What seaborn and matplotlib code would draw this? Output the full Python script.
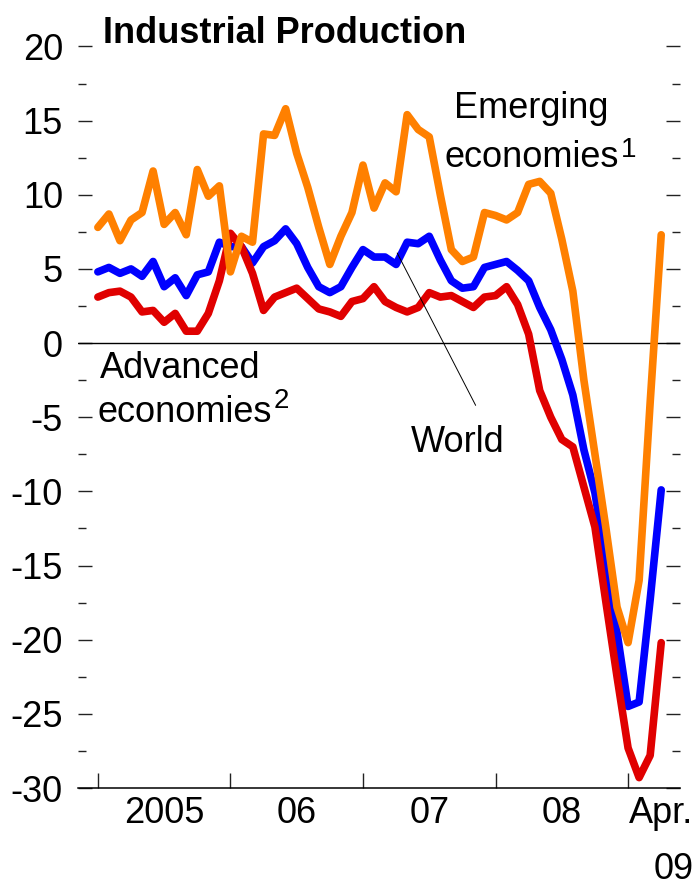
import matplotlib
matplotlib.use("Agg")
import matplotlib.pyplot as plt
import pandas as pd
import seaborn as sns
from matplotlib import font_manager
from matplotlib.ticker import FixedLocator, MultipleLocator

# Monthly, Jan 2005 .. Apr 2009 (year-on-year % change)
months = pd.date_range("2005-01-01", "2009-04-01", freq="MS")

emerging = [7.8, 8.7, 6.9, 8.3, 8.8, 11.6, 8.0, 8.8, 7.3, 11.7, 9.9, 10.6,
            4.8, 7.2, 6.8, 14.1, 14.0, 15.8, 12.8, 10.5, 7.8, 5.3, 7.2, 8.8,
            12.0, 9.1, 10.8, 10.2, 15.4, 14.4, 13.9, 10.0, 6.3, 5.5, 5.8, 8.8,
            8.6, 8.3, 8.8, 10.7, 10.9, 10.1, 7.0, 3.5, -2.5, -7.5, -12.5, -17.8,
            -20.2, -16.0, -4.0, 7.3]
world = [4.8, 5.1, 4.7, 5.0, 4.5, 5.5, 3.8, 4.4, 3.2, 4.6, 4.8, 6.8,
         6.5, 6.5, 5.4, 6.5, 6.9, 7.7, 6.7, 5.1, 3.8, 3.4, 3.8, 5.1,
         6.3, 5.8, 5.8, 5.3, 6.8, 6.7, 7.2, 5.6, 4.2, 3.7, 3.8, 5.1,
         5.3, 5.5, 4.9, 4.2, 2.4, 0.9, -1.1, -3.5, -7.2, -10.1, -14.8, -19.5,
         -24.5, -24.2, -17.3, -9.9]
advanced = [3.1, 3.4, 3.5, 3.1, 2.1, 2.2, 1.4, 2.0, 0.8, 0.8, 2.0, 4.2,
            7.4, 6.5, 4.7, 2.2, 3.1, 3.4, 3.7, 3.0, 2.3, 2.1, 1.8, 2.8,
            3.0, 3.8, 2.8, 2.4, 2.1, 2.4, 3.4, 3.1, 3.2, 2.8, 2.4, 3.1,
            3.2, 3.8, 2.6, 0.6, -3.2, -5.0, -6.5, -7.0, -9.7, -12.4, -17.5, -22.5,
            -27.3, -29.3, -27.8, -20.2]

year_ticks = [0, 12, 24, 36, 48]
year_label_pos = [6, 18, 30, 42, 51]
year_labels = ["2005", "06", "07", "08", "Apr.\n09"]

series_order = ["World", "Advanced", "Emerging"]
palette = {"World": "#0000FF", "Advanced": "#E00000", "Emerging": "#FF8000"}

df = pd.DataFrame({
    "t": range(len(months)),
    "Emerging": emerging,
    "World": world,
    "Advanced": advanced,
})
long_df = df.melt(id_vars="t", var_name="series", value_name="value")

sns.set_theme(style="white")
names = {f.name for f in font_manager.fontManager.ttflist}
if "Liberation Sans Narrow" in names:
    base_font, FS = "Liberation Sans Narrow", 31
else:
    base_font, FS = "Liberation Sans", 26
plt.rcParams["font.family"] = [base_font, "DejaVu Sans"]
plt.rcParams["axes.unicode_minus"] = False
plt.rcParams["text.color"] = "black"

fig = plt.figure(figsize=(6.95, 8.86), dpi=100)
ax = fig.add_axes([0.1122, 0.1106, 0.8662, 0.837])

sns.lineplot(data=long_df, x="t", y="value", hue="series", hue_order=series_order,
             palette=palette, linewidth=5.5, legend=False, ax=ax)
ax.axhline(0, color="black", lw=1.0, zorder=1)

ax.set_xlim(-1.8, 52.7)
ax.set_ylim(-30, 20)
ax.set_xlabel("")
ax.set_ylabel("")

for side in ["top", "left", "right"]:
    ax.spines[side].set_visible(False)
ax.spines["bottom"].set_color("black")
ax.spines["bottom"].set_linewidth(1.1)

ax.yaxis.set_major_locator(MultipleLocator(5))
ax.yaxis.set_minor_locator(MultipleLocator(2.5))
ax.tick_params(axis="y", which="both", direction="in", left=True, right=True,
               color="#222222", width=1.0, labelsize=FS, pad=10.8, labelcolor="black")
ax.tick_params(axis="y", which="major", length=10)
ax.tick_params(axis="y", which="minor", length=5.5)

ax.xaxis.set_major_locator(FixedLocator(year_ticks))
ax.xaxis.set_minor_locator(FixedLocator(year_label_pos))
ax.set_xticklabels([], minor=False)
ax.set_xticklabels(year_labels, minor=True)
ax.tick_params(axis="x", which="major", direction="in", bottom=True, length=11,
               width=1.0, color="#222222")
ax.tick_params(axis="x", which="minor", length=0, labelsize=FS, pad=6.0,
               labelcolor="black")
for lab in ax.xaxis.get_minorticklabels():
    lab.set_multialignment("right")
    lab.set_linespacing(1.75)

# series labels
ax.text(39.2, 15.17, "Emerging", fontsize=FS, ha="center", va="baseline")
econ1 = ax.text(39.3, 11.87, "economies", fontsize=FS, ha="center", va="baseline")
ax.annotate("1", xy=(1, 0), xycoords=econ1, xytext=(1.5, 13), textcoords="offset points",
            fontsize=20, ha="left", va="baseline")
ax.text(7.43, -2.36, "Advanced", fontsize=FS, ha="center", va="baseline")
econ2 = ax.text(7.83, -5.33, "economies", fontsize=FS, ha="center", va="baseline")
ax.annotate("2", xy=(1, 0), xycoords=econ2, xytext=(1.5, 16), textcoords="offset points",
            fontsize=20, ha="left", va="baseline")
ax.text(32.56, -7.35, "World", fontsize=FS, ha="center", va="baseline")
ax.annotate("", xy=(27.1, 6.07), xytext=(34.2, -4.2),
            arrowprops=dict(arrowstyle="-", color="black", lw=0.7,
                            shrinkA=0, shrinkB=0))

fig.text(103 / 695, 1 - 43 / 886, "Industrial Production", fontsize=FS,
         fontweight="bold", ha="left", va="baseline")

fig.savefig("out.png", dpi=100)
